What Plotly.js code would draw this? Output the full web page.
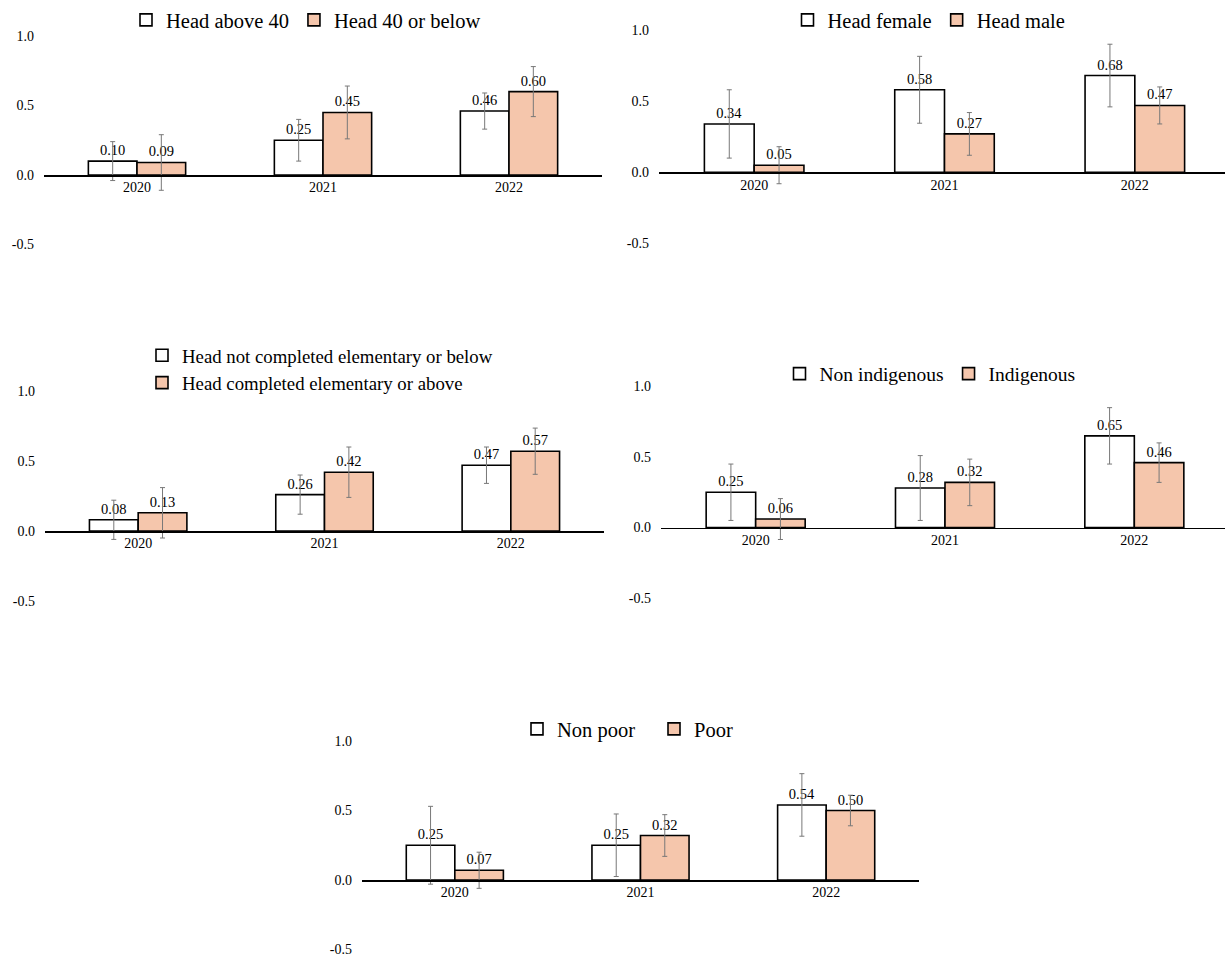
<!DOCTYPE html>
<html>
<head>
<meta charset="utf-8">
<script src="https://cdn.plot.ly/plotly-3.0.1.min.js"></script>
<style>html,body{margin:0;padding:0;background:#fff;}#chart{width:1225px;height:958px;}</style>
</head>
<body>
<div id="chart"></div>
<script>
// ---------- data ----------
const years = ['2020', '2021', '2022'];
const yTickVals = [-0.5, 0, 0.5, 1.0];
const yTickText = ['-0.5', '0.0', '0.5', '1.0'];

const p1Names = ['Head above 40', 'Head 40 or below'];
const p1A = [0.10, 0.25, 0.46];
const p1AErr = [0.14, 0.15, 0.13];
const p1B = [0.09, 0.45, 0.60];
const p1BErr = [0.20, 0.19, 0.18];

const p2Names = ['Head female', 'Head male'];
const p2A = [0.34, 0.58, 0.68];
const p2AErr = [0.24, 0.235, 0.22];
const p2B = [0.05, 0.27, 0.47];
const p2BErr = [0.13, 0.15, 0.13];

const p3Names = ['Head not completed elementary or below', 'Head completed elementary or above'];
const p3A = [0.08, 0.26, 0.47];
const p3AErr = [0.14, 0.14, 0.13];
const p3B = [0.13, 0.42, 0.57];
const p3BErr = [0.18, 0.18, 0.165];

const p4Names = ['Non indigenous', 'Indigenous'];
const p4A = [0.25, 0.28, 0.65];
const p4AErr = [0.20, 0.23, 0.20];
const p4B = [0.06, 0.32, 0.46];
const p4BErr = [0.145, 0.165, 0.14];

const p5Names = ['Non poor', 'Poor'];
const p5A = [0.25, 0.25, 0.54];
const p5AErr = [0.28, 0.225, 0.225];
const p5B = [0.07, 0.32, 0.50];
const p5BErr = [0.13, 0.15, 0.11];

// ---------- styling / layout helpers ----------
const W = 1225, H = 958;
const FONT = 'Liberation Serif, serif';
const WHITE = '#ffffff';
const PEACH = 'rgb(245,198,172)';

const panels = [
  {names: p1Names, a: p1A, aErr: p1AErr, b: p1B, bErr: p1BErr,
   px: [44, 602], full: 602, py: [36, 244.5], leg: {x: 306, y: 0, top: true, h: true, fs: 20.5}},
  {names: p2Names, a: p2A, aErr: p2AErr, b: p2B, bErr: p2BErr,
   px: [659, 1225], full: 1230, py: [30, 243.5], leg: {x: 929, y: 0, top: true, h: true, fs: 20.5}},
  {names: p3Names, a: p3A, aErr: p3AErr, b: p3B, bErr: p3BErr,
   px: [45, 604], full: 604, py: [391, 601], leg: {x: 320, y: 369, h: false, fs: 18.8}},
  {names: p4Names, a: p4A, aErr: p4AErr, b: p4B, bErr: p4BErr,
   px: [661, 1225], full: 1229, py: [386.5, 598], leg: {x: 930, y: 374, h: true, fs: 19.5}},
  {names: p5Names, a: p5A, aErr: p5AErr, b: p5B, bErr: p5BErr,
   px: [362, 919], full: 919, py: [741, 949.5], leg: {x: 654, y: 729, h: true, fs: 20.5, ew: 92}}
];

const data = [];
const layout = {
  width: W, height: H,
  margin: {l: 0, r: 0, t: 0, b: 0},
  paper_bgcolor: '#fff', plot_bgcolor: 'rgba(0,0,0,0)',
  font: {family: FONT, size: 14, color: '#000'},
  showlegend: true,
  barmode: 'group',
  bargap: 0.477, bargroupgap: 0
};

panels.forEach((p, i) => {
  const n = i + 1;
  const xa = 'x' + (n === 1 ? '' : n);
  const ya = 'y' + (n === 1 ? '' : n);
  const legName = 'legend' + (n === 1 ? '' : n);
  const cols = [WHITE, PEACH];
  [[p.a, p.aErr], [p.b, p.bErr]].forEach(([vals, errs], k) => {
    data.push({
      type: 'bar', x: years, y: vals, name: p.names[k],
      xaxis: xa, yaxis: ya, legend: legName,
      marker: {color: cols[k], line: {color: '#000', width: 1.6}},
      error_y: {type: 'data', array: errs, visible: true, color: 'rgb(120,120,120)', thickness: 1, width: 2.5},
      texttemplate: '%{y:.2f}', textposition: 'outside', cliponaxis: false,
      textfont: {family: FONT, size: 14.5, color: '#000'},
      hoverinfo: 'skip'
    });
  });
  const top = p.py[0], bot = p.py[1];
  const zeroPx = top + (1.0 / 1.5) * (bot - top);
  const xHi = -0.5 + 3 * (p.px[1] - p.px[0]) / (p.full - p.px[0]);
  layout['xaxis' + (n === 1 ? '' : n)] = {
    domain: [p.px[0] / W, p.px[1] / W],
    anchor: 'free', position: 1 - zeroPx / H,
    range: [-0.5, xHi], type: 'category',
    showline: true, linecolor: '#000', linewidth: 1.6,
    showgrid: false, zeroline: false, ticks: '',
    ticklabelstandoff: -1,
    tickfont: {family: FONT, size: 14, color: '#000'},
    fixedrange: true, automargin: false
  };
  layout['yaxis' + (n === 1 ? '' : n)] = {
    domain: [1 - bot / H, 1 - top / H],
    anchor: xa, range: [-0.5, 1.0],
    tickvals: yTickVals, ticktext: yTickText,
    showline: false, showgrid: false, zeroline: false, ticks: '',
    ticklabelstandoff: 9,
    tickfont: {family: FONT, size: 14, color: '#000'},
    fixedrange: true, automargin: false
  };
  const leg = {
    x: p.leg.x / W, xanchor: 'center',
    y: 1 - p.leg.y / H, yanchor: p.leg.top ? 'top' : 'middle',
    orientation: p.leg.h ? 'h' : 'v',
    bgcolor: 'rgba(0,0,0,0)', borderwidth: 0,
    font: {family: FONT, size: p.leg.fs, color: '#000'},
    traceorder: 'normal', tracegroupgap: 0,
    itemclick: false, itemdoubleclick: false
  };
  if (p.leg.ew) { leg.entrywidth = p.leg.ew; leg.entrywidthmode = 'pixels'; }
  layout[legName] = leg;
});

Plotly.newPlot('chart', data, layout, {displayModeBar: false, staticPlot: true});
</script>
</body>
</html>
